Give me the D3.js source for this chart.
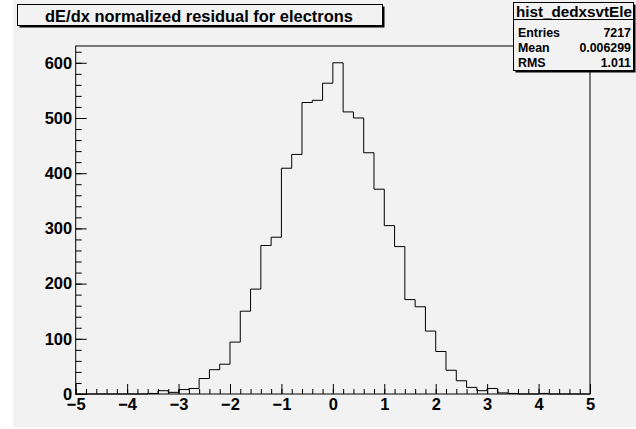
<!DOCTYPE html>
<html>
<head>
<meta charset="utf-8">
<script src="https://cdn.jsdelivr.net/npm/d3@7"></script>
<style>
  body { margin: 0; background: #fff; }
  svg { display: block; }
  text { font-family: "Liberation Sans", Arial, Helvetica, sans-serif; font-weight: bold; fill: #000; }
</style>
</head>
<body>
<div id="chart"></div>
<script>
(function(){

  // histogram contents, 50 bins of 0.2 from -5 to 5
  var binEdges = d3.range(50).map(function(i) { return -5 + i * 0.2; });
  var counts = [
    0, 0, 0, 0, 0, 0, 0, 1, 6, 3,
    8, 10, 28, 44, 54, 94, 150, 190, 269, 284,
    409, 434, 528, 532, 563, 600, 511, 500, 437, 371,
    305, 267, 171, 158, 114, 77, 43, 24, 12, 6,
    10, 2, 1, 0, 0, 1, 0, 0, 0, 0
  ];
  var xTickLabels = [-5, -4, -3, -2, -1, 0, 1, 2, 3, 4, 5];
  var yTickLabels = [0, 100, 200, 300, 400, 500, 600];
  var title = 'dE/dx normalized residual for electrons';
  var statsName = 'hist_dedxsvtEle';
  var statsRows = [['Entries', '7217'], ['Mean', '0.006299'], ['RMS', '1.011']];

  var W = 636, H = 429;
  var frame = {x0: 75.7, x1: 590, y0: 46, y1: 394};

  var x = d3.scaleLinear().domain([-5, 5]).range([frame.x0, frame.x1]);
  var y = d3.scaleLinear().domain([0, 630.4]).range([frame.y1, frame.y0]);

  var svg = d3.select('#chart')
    .append('svg')
    .attr('width', W)
    .attr('height', H);

  // scale a font so that one sample text gets the width seen in the picture
  function fitSize(sel, sample, width) {
    var base = 20;
    var t = svg.append('text').attr('font-size', base).attr('font-weight', sel.attr('font-weight') || 'bold').text(sample);
    var w = t.node().getComputedTextLength();
    t.remove();
    return base * width / w;
  }

  // canvas
  svg.append('rect')
    .attr('x', 13).attr('y', 0)
    .attr('width', W - 13).attr('height', 427)
    .attr('fill', '#f2f2f2');

  // minor ticks
  svg.append('g')
    .attr('transform', 'translate(0,' + frame.y1 + ')')
    .call(d3.axisBottom(x).tickValues(d3.range(-5, 5.001, 0.2)).tickSizeInner(-5).tickSizeOuter(0).tickFormat(''))
    .call(function(g) { g.select('.domain').remove(); });
  svg.append('g')
    .attr('transform', 'translate(' + frame.x0 + ',0)')
    .call(d3.axisLeft(y).tickValues(d3.range(0, 621, 20)).tickSizeInner(-6).tickSizeOuter(0).tickFormat(''))
    .call(function(g) { g.select('.domain').remove(); });

  var labelSize = fitSize(svg, '600', 27.5);

  // major ticks with labels
  var xAxis = svg.append('g')
    .attr('transform', 'translate(0,' + frame.y1 + ')')
    .call(d3.axisBottom(x).tickValues(xTickLabels).tickSizeInner(-10).tickSizeOuter(0).tickPadding(4).tickFormat(d3.format('d')))
    .call(function(g) { g.select('.domain').remove(); });
  xAxis.selectAll('text')
    .attr('y', 4)
    .attr('font-size', labelSize);

  var yAxis = svg.append('g')
    .attr('transform', 'translate(' + frame.x0 + ',0)')
    .call(d3.axisLeft(y).tickValues(yTickLabels).tickSizeInner(-11).tickSizeOuter(0).tickPadding(3.5).tickFormat(d3.format('d')))
    .call(function(g) { g.select('.domain').remove(); });
  yAxis.selectAll('text')
    .attr('font-size', labelSize);

  svg.selectAll('.tick line').attr('stroke', '#000');
  svg.selectAll('.tick text').attr('font-family', '"Liberation Sans", Arial, sans-serif').attr('font-weight', 'bold');

  // histogram outline
  var pts = binEdges.map(function(e, i) { return [e, counts[i]]; });
  pts.push([5, counts[counts.length - 1]]);
  var line = d3.line()
    .x(function(d) { return x(d[0]); })
    .y(function(d) { return y(d[1]); })
    .curve(d3.curveStepAfter);
  svg.append('path')
    .datum(pts)
    .attr('d', line)
    .attr('fill', 'none')
    .attr('stroke', '#000')
    .attr('stroke-width', 1);

  // frame
  svg.append('rect')
    .attr('x', frame.x0).attr('y', frame.y0)
    .attr('width', frame.x1 - frame.x0).attr('height', frame.y1 - frame.y0)
    .attr('fill', 'none')
    .attr('stroke', '#000')
    .attr('stroke-width', 1);

  // box with shadow (ROOT pave style)
  function pave(x0, y0, x1, y1) {
    var g = svg.append('g');
    g.append('rect')
      .attr('x', x0 + 2).attr('y', y0 + 2)
      .attr('width', x1 - x0).attr('height', y1 - y0)
      .attr('fill', '#000');
    g.append('rect')
      .attr('x', x0).attr('y', y0)
      .attr('width', x1 - x0).attr('height', y1 - y0)
      .attr('fill', '#f2f2f2')
      .attr('stroke', '#000')
      .attr('stroke-width', 1);
    return g;
  }

  // title
  var tg = pave(17.5, 4.5, 382.5, 25.5);
  tg.append('text')
    .attr('x', 199).attr('y', 21.5)
    .attr('text-anchor', 'middle')
    .attr('font-size', fitSize(svg, title, 308))
    .text(title);

  // stats box
  var sg = pave(513.5, 2.5, 633.5, 70.5);
  sg.append('line')
    .attr('x1', 513.5).attr('x2', 633.5)
    .attr('y1', 19.5).attr('y2', 19.5)
    .attr('stroke', '#000');
  sg.append('text')
    .attr('x', 574).attr('y', 16.5)
    .attr('text-anchor', 'middle')
    .attr('font-size', fitSize(svg, statsName, 116))
    .text(statsName);
  var rowSize = fitSize(svg, 'Entries', 42);
  statsRows.forEach(function(r, i) {
    var by = 36.5 + i * 15;
    sg.append('text')
      .attr('x', 518).attr('y', by)
      .attr('font-size', rowSize)
      .text(r[0]);
    sg.append('text')
      .attr('x', 631).attr('y', by)
      .attr('text-anchor', 'end')
      .attr('font-size', rowSize)
      .text(r[1]);
  });

})();
</script>
</body>
</html>
